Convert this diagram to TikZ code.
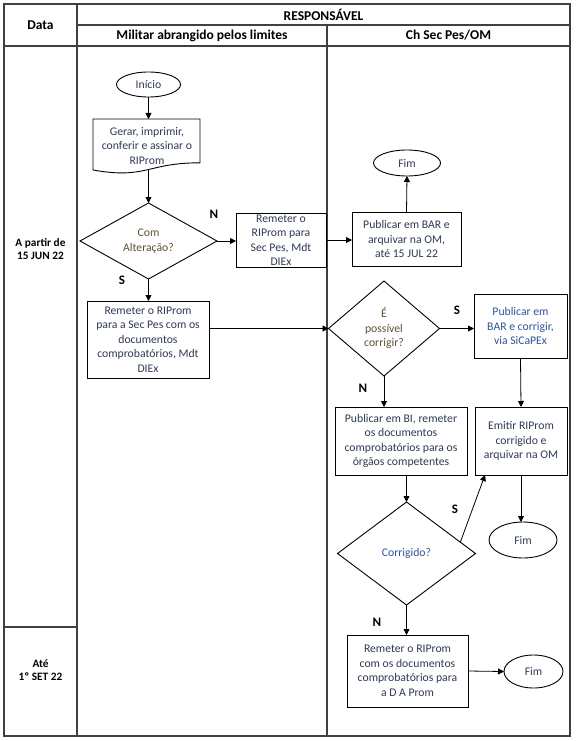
\documentclass[tikz,border=0pt]{standalone}
\usepackage{fontspec}
\setmainfont{Carlito}
\usetikzlibrary{shapes.geometric,arrows.meta,calc,shadows}
\definecolor{txt}{HTML}{2E3A55}
\definecolor{txtb}{HTML}{2F5496}
\definecolor{txtr}{HTML}{5E5030}
\definecolor{grid}{HTML}{404040}
\begin{document}
\begin{tikzpicture}[x=1pt,y=-1pt,
  every node/.style={font=\fontsize{11.7}{14.5}\selectfont, text=txt, align=center, inner sep=0pt, outer sep=0pt},
  hdr/.style={font=\bfseries\fontsize{13.5}{16}\selectfont, text=black},
  datatxt/.style={font=\bfseries\fontsize{11.3}{13}\selectfont, text=black},
  lab/.style={font=\bfseries\fontsize{13}{15}\selectfont, text=black},
  box/.style={draw=black, line width=0.9pt, rectangle, fill=white,
     drop shadow={shadow xshift=0.9pt, shadow yshift=-0.9pt, fill=black, opacity=0.35}},
  term/.style={draw=black, line width=0.9pt, ellipse},
  dec/.style={draw=black, line width=0.9pt, diamond},
  arr/.style={draw=black, line width=0.8pt, -{Triangle[length=6pt,width=6pt]}},
  gridline/.style={draw=grid, line width=1.1pt}
]
\useasboundingbox (0,0) rectangle (576,741);
% table
\draw[gridline] (4,4) rectangle (570,736);
\draw[gridline] (77,4) -- (77,736);
\draw[gridline] (327,25) -- (327,736);
\draw[gridline] (77,25) -- (570,25);
\draw[gridline] (4,46) -- (570,46);
\draw[gridline] (4,627) -- (77,627);
% headers
\node[hdr] (hdata) at (40.5,25) {Data};
\node[hdr] (hresp) at (323.5,14.5) {RESPONSÁVEL};
\node[hdr] (hmil) at (202,35.5) {Militar abrangido pelos limites};
\node[hdr] (hch) at (448.5,35.5) {Ch Sec Pes/OM};
\node[datatxt] (dt1) at (40.5,249.5) {A partir de\\15 JUN 22};
\node[datatxt] (dt2) at (40.5,670) {Até\\1º SET 22};
% flow
\node[term, minimum width=64pt, minimum height=25pt] (inicio) at (148.5,84.5) {Início};
\draw[line width=0.9pt, fill=white] (93,170) -- (93,119) -- (200,119) -- (200,162.8)
   .. controls (146.5,162.8) and (146.5,179.5) .. (93,170) -- cycle;
\node (doc) at (147,146) {Gerar, imprimir,\\conferir e assinar o\\RIProm};
\coordinate (docb) at (148.5,170);
\node[dec, minimum width=137pt, minimum height=76pt, aspect=1.8, text=txtr] (d1) at (148.5,241) {Com\\Alteração?};
\node[box, minimum width=90pt, minimum height=54pt] (bsec) at (281,240) {Remeter o\\RIProm para\\Sec Pes, Mdt\\DIEx};
\node[box, minimum width=122pt, minimum height=77pt] (brem) at (148,339.5) {Remeter o RIProm\\para a Sec Pes com os\\documentos\\comprobatórios, Mdt\\DIEx};
\node[box, minimum width=109pt, minimum height=54pt] (bpub) at (406.5,239) {Publicar em BAR e\\arquivar na OM,\\até 15 JUL 22};
\node[term, minimum width=67pt, minimum height=26pt] (fim1) at (407,163) {Fim};
\node[dec, minimum width=111pt, minimum height=95pt, aspect=1.17, text=txtr] (d2) at (384,328.5) {É\\possível\\corrigir?};
\node[box, minimum width=93pt, minimum height=64pt, text=txtb] (bsic) at (520.5,326) {Publicar em\\BAR e corrigir,\\via SiCaPEx};
\node[box, minimum width=132pt, minimum height=68pt] (bbi) at (401,441) {Publicar em BI, remeter\\os documentos\\comprobatórios para os\\órgãos competentes};
\node[box, minimum width=92pt, minimum height=68pt] (bemit) at (521,441) {Emitir RIProm\\corrigido e\\arquivar na OM};
\node[dec, minimum width=138pt, minimum height=103pt, aspect=1.34, text=txtb] (d3) at (406.5,553.5) {Corrigido?};
\node[term, minimum width=68pt, minimum height=36pt] (fim2) at (523,540) {Fim};
\node[box, minimum width=121pt, minimum height=72pt] (bdap) at (407.5,671) {Remeter o RIProm\\com os documentos\\comprobatórios para\\a D A Prom};
\node[term, minimum width=59pt, minimum height=33pt] (fim3) at (533.5,671.5) {Fim};
% labels
\node[lab] (l1) at (214,214) {N};
\node[lab] (l2) at (122,280) {S};
\node[lab] (l3) at (457,310) {S};
\node[lab] (l4) at (363,388) {N};
\node[lab] (l5) at (455,509) {S};
\node[lab] (l6) at (377,622) {N};
% connectors
\draw[arr] (inicio.south) -- (inicio.south |- 0,119);
\draw[arr] (docb) -- (d1.north);
\draw[arr] (d1.east) -- (bsec.west |- d1.east);
\draw[arr] (d1.south) -- (brem.north -| d1.south);
\draw[arr] (bsec.east) -- (bpub.west |- bsec.east);
\draw[arr] (bpub.north) -- (fim1.south);
\draw[arr] (brem.east |- d2.west) -- (d2.west);
\draw[arr] (d2.east) -- (bsic.west |- d2.east);
\draw[arr] (d2.south) -- (d2.south |- bbi.north);
\draw[arr] (bsic.south) -- (bemit.north);
\draw[arr] (d3.north |- bbi.south) -- (d3.north);
\coordinate (d3s) at ($(d3.north)!0.78!(d3.east)$);
\coordinate (emitin) at ($(bemit.south west)+(10,0)$);
\draw[arr] (d3s) -- (emitin);
\draw[arr] (bemit.south) -- (bemit.south |- fim2.north);
\draw[arr] (d3.south) -- (d3.south |- bdap.north);
\draw[arr] (bdap.east) -- (fim3.west);
\end{tikzpicture}
\end{document}
